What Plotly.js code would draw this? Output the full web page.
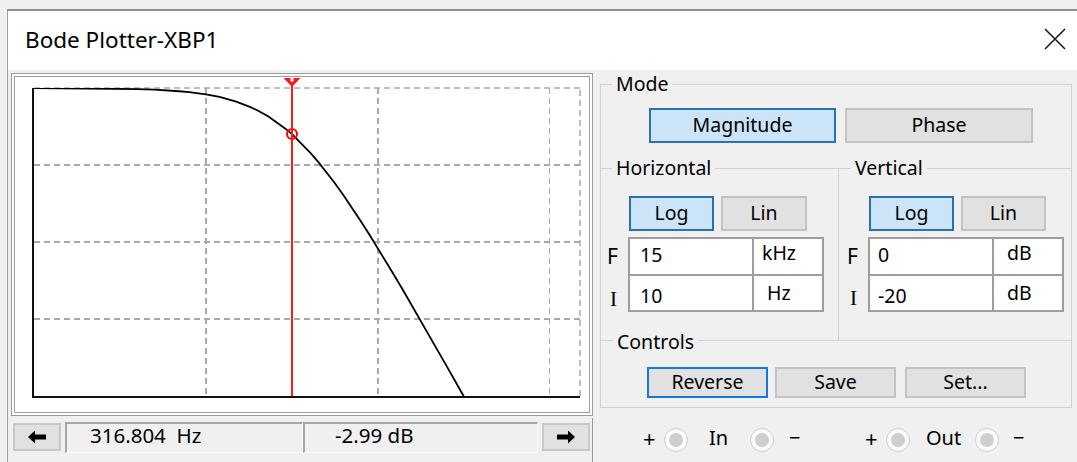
<!DOCTYPE html>
<html>
<head>
<meta charset="utf-8">
<script src="https://cdn.plot.ly/plotly-3.0.1.min.js"></script>
<style>
html,body{margin:0;padding:0;width:1077px;height:462px;overflow:hidden;background:#f0f0f0;font-family:"Noto Sans",sans-serif;color:#000;}
#ui{position:absolute;left:0;top:0;width:1077px;height:462px;}
.a{position:absolute;box-sizing:border-box;}
.t{position:absolute;white-space:nowrap;}
.btn{position:absolute;box-sizing:border-box;display:flex;align-items:center;justify-content:center;font-size:19.5px;line-height:1;padding-bottom:2px;}
</style>
</head>
<body>
<div id="ui"></div>
<div id="plot" style="position:absolute;left:15px;top:77px;width:574px;height:335px;"></div>
<script>
// ---- data ----
const freqHz = [10, 15, 20, 30, 40, 50, 60, 70, 80, 100, 120, 150, 180, 200, 230, 260, 290, 316.804, 350, 400, 450, 500, 560, 630, 700, 800, 900, 1000, 1100, 1250, 1400, 1600, 1800, 2000, 2250, 2500, 2800, 3000, 3160];
const magDb  = [0.00, -0.01, -0.02, -0.04, -0.07, -0.11, -0.15, -0.21, -0.27, -0.41, -0.58, -0.88, -1.22, -1.46, -1.84, -2.24, -2.64, -2.99, -3.46, -4.14, -4.80, -5.43, -6.15, -6.95, -7.70, -8.68, -9.58, -10.40, -11.16, -12.19, -13.12, -14.23, -15.22, -16.11, -17.11, -18.01, -18.98, -19.58, -20.02];
const freqInitHz = 10;      // I (horizontal)
const freqFinalHz = 15000;  // F (horizontal)
const dbInit = -20;         // I (vertical)
const dbFinal = 0;          // F (vertical)
const freqGridHz = [100, 1000, 10000];
const dbGrid = [-15, -10, -5];
const cursorHz = 316.804;
const cursorDb = -2.99;
const hFieldTexts = ["15", "kHz", "10", "Hz"];
const vFieldTexts = ["0", "dB", "-20", "dB"];

// ---- window chrome (HTML) ----
const ui = document.getElementById('ui');
function box(l, t, w, h, css) {
  const d = document.createElement('div');
  d.className = 'a';
  d.style.cssText = `left:${l}px;top:${t}px;width:${w}px;height:${h}px;` + (css || '');
  ui.appendChild(d); return d;
}
function txt(s, l, cy, size, css) {
  const d = document.createElement('div');
  d.className = 't';
  d.textContent = s;
  d.style.cssText = `left:${l}px;top:${(cy - 0.58 * size).toFixed(1)}px;font-size:${size}px;line-height:${size}px;` + (css || '');
  ui.appendChild(d); return d;
}
function btn(s, l, t, w, h, kind) {
  const d = document.createElement('div');
  d.className = 'btn';
  let st = 'background:#e1e1e1;border:2px solid #c3c3c3;';
  if (kind === 'sel') st = 'background:#cce4f7;border:2px solid #2a71b2;';
  if (kind === 'focus') st = 'background:#e1e1e1;border:2px solid #1479d6;';
  d.style.cssText = `left:${l}px;top:${t}px;width:${w}px;height:${h}px;` + st;
  d.textContent = s;
  ui.appendChild(d); return d;
}

// window frame and title bar
box(7, 9, 1070, 453, 'border-top:2px solid #8f8f8f;border-left:1px solid #a0a0a0;');
box(8, 11, 1069, 59, 'background:#ffffff;');
txt('Bode Plotter-XBP1', 25, 42, 22.5);
const x = document.createElementNS('http://www.w3.org/2000/svg', 'svg');
x.setAttribute('width', '24'); x.setAttribute('height', '24');
x.style.cssText = 'position:absolute;left:1043px;top:27px;';
x.innerHTML = '<path d="M2 2 L22 22 M22 2 L2 22" stroke="#1a1a1a" stroke-width="1.6" fill="none"/>';
ui.appendChild(x);

// plot frame (double sunken border)
box(11, 73, 582, 343, 'border:4px double #9c9c9c;background:#ffffff;');

// bottom readout bar
function arrowBtn(l, dir) {
  const b = box(l, 423, 48, 28, 'background:#e1e1e1;border:2px solid #c8c8c8;');
  const s = document.createElementNS('http://www.w3.org/2000/svg', 'svg');
  s.setAttribute('width', '20'); s.setAttribute('height', '14');
  s.style.cssText = 'position:absolute;left:12px;top:5px;';
  const p = dir < 0 ? 'M1 7 L8 0.5 L8 4.5 L19 4.5 L19 9.5 L8 9.5 L8 13.5 Z' : 'M19 7 L12 0.5 L12 4.5 L1 4.5 L1 9.5 L12 9.5 L12 13.5 Z';
  s.innerHTML = `<path d="${p}" fill="#000"/>`;
  b.appendChild(s);
}
arrowBtn(13, -1);
arrowBtn(542, 1);
box(65, 422, 238, 31, 'border-top:2px solid #a8a8a8;border-left:2px solid #a8a8a8;border-right:1px solid #fafafa;border-bottom:1px solid #fafafa;');
box(303, 422, 235, 31, 'border-top:2px solid #a8a8a8;border-left:2px solid #a8a8a8;border-right:1px solid #fafafa;border-bottom:1px solid #fafafa;');
txt(cursorHz.toFixed(3) + '\u00a0\u00a0Hz', 90, 437, 20.5);
txt(cursorDb.toFixed(2) + ' dB', 335, 437, 20.5);
box(592, 418, 1, 44, 'background:#9a9a9a;');

// right panel group boxes
const etch = '#d2d2d2';
box(600, 84, 472, 324, `border:1px solid ${etch};`);
box(600, 168, 472, 1, `background:${etch};`);
box(838, 168, 1, 172, `background:${etch};`);
box(600, 340, 472, 1, `background:${etch};`);
txt('Mode', 612, 85, 19.5, 'background:#f0f0f0;padding:0 4px;');
txt('Horizontal', 612, 169, 19.5, 'background:#f0f0f0;padding:0 4px;');
txt('Vertical', 851, 169, 19.5, 'background:#f0f0f0;padding:0 4px;');
txt('Controls', 613, 343, 19.5, 'background:#f0f0f0;padding:0 4px;');

btn('Magnitude', 649, 108, 187, 35, 'sel');
btn('Phase', 845, 108, 188, 35, '');
btn('Log', 629, 196, 85, 35, 'sel');
btn('Lin', 721, 196, 86, 35, '');
btn('Log', 869, 196, 85, 35, 'sel');
btn('Lin', 961, 196, 85, 35, '');
btn('Reverse', 647, 367, 121, 31, 'focus');
btn('Save', 775, 367, 121, 31, '');
btn('Set...', 905, 367, 121, 31, '');

// F / I entry fields
function fields(lv, texts, valX, unitX) {
  const fb = 'background:#ffffff;border:2px solid #9e9e9e;';
  box(lv, 237, 126, 39, fb); box(lv + 124, 237, 72, 39, fb);
  box(lv, 274, 126, 38, fb); box(lv + 124, 274, 72, 38, fb);
  txt(texts[0], valX, 256, 19.5);
  txt(texts[1], unitX[0], 254, 19.5);
  txt(texts[2], valX, 297, 19.5);
  txt(texts[3], unitX[1], 294, 19.5);
}
fields(628, hFieldTexts, 640, [762, 767]);
fields(868, vFieldTexts, 878, [1007, 1007]);
txt('F', 607, 258, 21);
txt('I', 610, 301, 21, 'font-family:"Liberation Serif",serif;');
txt('F', 847, 258, 21);
txt('I', 850, 300, 21, 'font-family:"Liberation Serif",serif;');

// In / Out terminals
function term(cx) {
  const o = box(cx - 12, 428, 24, 24, 'border-radius:50%;background:#fbfbfb;border:1px solid #cdcdcd;');
  const i = document.createElement('div');
  i.style.cssText = 'position:absolute;left:4px;top:4px;width:14px;height:14px;border-radius:50%;background:#cfcfcf;';
  o.appendChild(i);
}
term(676); term(762); term(898); term(987);
txt('+', 643, 440, 22);
txt('In', 709, 440, 20);
txt('\u2212', 789, 440, 20);
txt('+', 865, 440, 22);
txt('Out', 926, 440, 20);
txt('\u2212', 1013, 440, 20);

// ---- the Bode magnitude plot (Plotly) ----
const lx0 = Math.log10(freqInitHz), lx1 = Math.log10(freqFinalHz);
const plotW = 546, plotH = 308;
const cxPaper = (Math.log10(cursorHz) - lx0) / (lx1 - lx0);
const hw = 8.5 / plotW;
const yTopTri = 1 + 10 / plotH, yBotTri = 1 + 3 / plotH;
const gridDash = '6px,4px';
const gridColor = '#a9a9a9';

const traces = [
  {x: freqHz, y: magDb, type: 'scatter', mode: 'lines',
   line: {color: '#000000', width: 1.8}, hoverinfo: 'skip'},
  {x: [cursorHz], y: [cursorDb], type: 'scatter', mode: 'markers', cliponaxis: false,
   marker: {symbol: 'circle-open', size: 10, color: '#ff0000', line: {color: '#ff0000', width: 2}}, hoverinfo: 'skip'}
];
const layout = {
  width: 574, height: 335,
  margin: {l: 19, r: 9, t: 11, b: 16, pad: 0},
  paper_bgcolor: '#ffffff', plot_bgcolor: '#ffffff',
  showlegend: false,
  xaxis: {type: 'log', range: [lx0, lx1], tickvals: freqGridHz, showticklabels: false, ticks: '',
          showgrid: true, gridcolor: gridColor, gridwidth: 1.5, griddash: gridDash,
          showline: true, linecolor: '#111111', linewidth: 2, zeroline: false, fixedrange: true},
  yaxis: {type: 'linear', range: [dbInit, dbFinal], tickvals: dbGrid, showticklabels: false, ticks: '',
          showgrid: true, gridcolor: gridColor, gridwidth: 1.5, griddash: gridDash,
          showline: true, linecolor: '#111111', linewidth: 2, zeroline: false, fixedrange: true},
  shapes: [
    // dashed grid lines on the F (final) edges of both axes
    {type: 'line', xref: 'paper', yref: 'paper', x0: 0, x1: 1, y0: 1, y1: 1, layer: 'below',
     line: {color: gridColor, width: 1.5, dash: gridDash}},
    {type: 'line', xref: 'paper', yref: 'paper', x0: 1, x1: 1, y0: 0, y1: 1, layer: 'below',
     line: {color: gridColor, width: 1.5, dash: gridDash}},
    // cursor
    {type: 'line', xref: 'paper', yref: 'paper', x0: cxPaper, x1: cxPaper, y0: 0, y1: yTopTri,
     line: {color: '#ff1a1a', width: 2}},
    {type: 'path', xref: 'paper', yref: 'paper',
     path: `M ${cxPaper - hw} ${yTopTri} L ${cxPaper + hw} ${yTopTri} L ${cxPaper} ${yBotTri - 2 / plotH} Z`,
     fillcolor: '#ff1a1a', line: {width: 0}},
    {type: 'rect', xref: 'paper', yref: 'paper',
     x0: cxPaper - 1.5 / plotW, x1: cxPaper + 1.5 / plotW, y0: yTopTri - 3.5 / plotH, y1: yTopTri,
     fillcolor: '#ffffff', line: {width: 0}}
  ]
};
Plotly.newPlot('plot', traces, layout, {displayModeBar: false, staticPlot: true});
</script>
</body>
</html>
